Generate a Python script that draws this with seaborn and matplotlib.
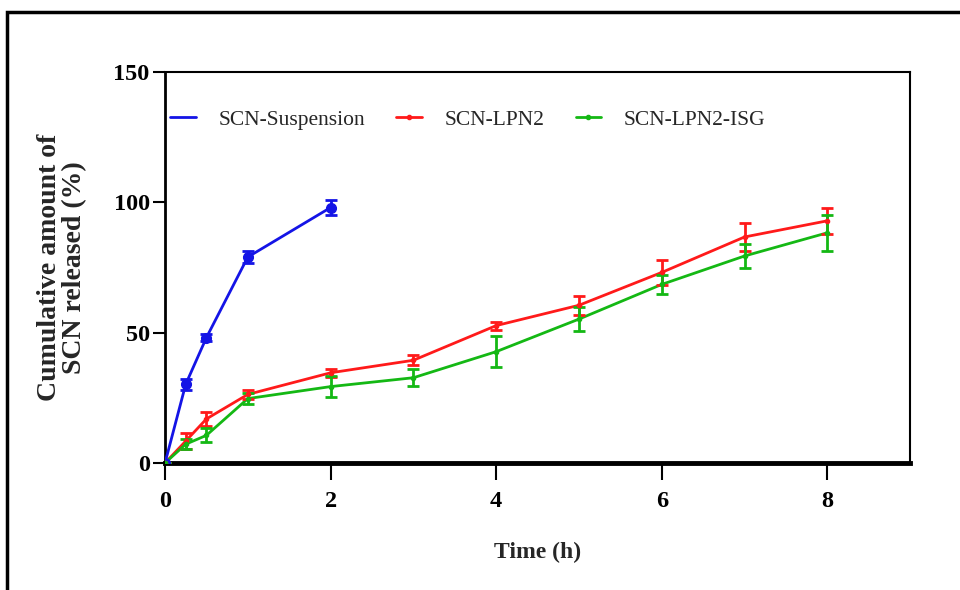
import matplotlib
matplotlib.use("Agg")
import matplotlib.pyplot as plt
from matplotlib.lines import Line2D
from matplotlib.patches import Rectangle
import numpy as np
import pandas as pd
import seaborn as sns

# Release profiles (time in hours, cumulative % released, SD)
time_susp = [0, 0.25, 0.5, 1, 2]
rel_susp = [0, 30.2, 48.1, 79.0, 98.0]
sd_susp = [0, 2.2, 1.2, 2.2, 2.8]

time_lpn = [0, 0.25, 0.5, 1, 2, 3, 4, 5, 6, 7, 8]
rel_lpn2 = [0, 8.4, 16.9, 26.3, 34.6, 39.4, 52.7, 60.5, 73.1, 86.7, 92.9]
sd_lpn2 = [0, 3.2, 2.8, 1.8, 1.6, 1.9, 1.5, 3.6, 4.8, 5.2, 5.0]
rel_isg = [0, 7.2, 10.6, 24.7, 29.3, 32.7, 42.7, 55.2, 68.5, 79.4, 88.3]
sd_isg = [0, 2.0, 2.7, 2.2, 4.0, 3.3, 5.9, 4.5, 3.8, 4.7, 6.9]

names = ["SCN-Suspension", "SCN-LPN2", "SCN-LPN2-ISG"]
colors = {"SCN-Suspension": "#1414e6", "SCN-LPN2": "#ff1a1a", "SCN-LPN2-ISG": "#14b814"}

frames = [
    pd.DataFrame({"time": time_susp, "rel": rel_susp, "sd": sd_susp, "form": names[0]}),
    pd.DataFrame({"time": time_lpn, "rel": rel_lpn2, "sd": sd_lpn2, "form": names[1]}),
    pd.DataFrame({"time": time_lpn, "rel": rel_isg, "sd": sd_isg, "form": names[2]}),
]
df = pd.concat(frames, ignore_index=True)

sns.set_theme(style="ticks")
plt.rcParams["font.family"] = ["Liberation Serif", "DejaVu Serif"]

fig = plt.figure(figsize=(9.6, 5.9), dpi=100)
ax = fig.add_axes([0.1719, 0.2153, 0.948 - 0.1719, 0.878 - 0.2153])

sns.lineplot(data=df, x="time", y="rel", hue="form", palette=colors,
             hue_order=names, linewidth=2, legend=False, ax=ax, zorder=3)

marker_style = {names[0]: ("o", 7), names[1]: ("o", 3), names[2]: ("o", 3)}
for name, sub in df.groupby("form", sort=False):
    m, ms = marker_style[name]
    ax.errorbar(sub["time"], sub["rel"], yerr=sub["sd"], fmt=m, ms=ms,
                color=colors[name], ecolor=colors[name], elinewidth=2,
                capsize=4, capthick=2, zorder=4)

ax.set_xlim(0, 9)
ax.set_ylim(0, 150)
ax.set_xticks([0, 2, 4, 6, 8])
ax.set_yticks([0, 50, 100, 150])

for side in ["top", "right"]:
    ax.spines[side].set_linewidth(1.5)
    ax.spines[side].set_color("black")
ax.spines["left"].set_linewidth(2)
ax.spines["bottom"].set_linewidth(3.5)
ax.spines["left"].set_color("black")
ax.spines["bottom"].set_color("black")

ax.tick_params(axis="x", length=12, width=1.5, pad=8, colors="black")
ax.tick_params(axis="y", length=9, width=1.5, pad=2, colors="black")
for lab in ax.get_xticklabels() + ax.get_yticklabels():
    lab.set_fontweight("bold")
    lab.set_fontsize(17.5)

ax.set_xlabel("Time (h)", fontsize=17, fontweight="bold", labelpad=22)
ax.set_ylabel("Cumulative amount of\nSCN released (%)", fontsize=20,
              fontweight="bold", labelpad=19, linespacing=1.0)

handles = [
    Line2D([], [], color=colors[names[0]], lw=2),
    Line2D([], [], color=colors[names[1]], lw=2, marker="o", ms=3),
    Line2D([], [], color=colors[names[2]], lw=2, marker="o", ms=3),
]
ax.legend(handles, names, loc="upper left", bbox_to_anchor=(-0.011, 0.937),
          ncol=3, frameon=False, fontsize=15.5, handlelength=1.2,
          columnspacing=1.45, handletextpad=1.05, borderaxespad=0.2)

# outer figure frame
fig.patches.append(Rectangle((7 / 960, -0.1), 1.2, 1 - 12 / 590 + 0.1,
                             transform=fig.transFigure, fill=False,
                             edgecolor="black", linewidth=2.5))

fig.savefig("out.png", dpi=100, facecolor="white")
